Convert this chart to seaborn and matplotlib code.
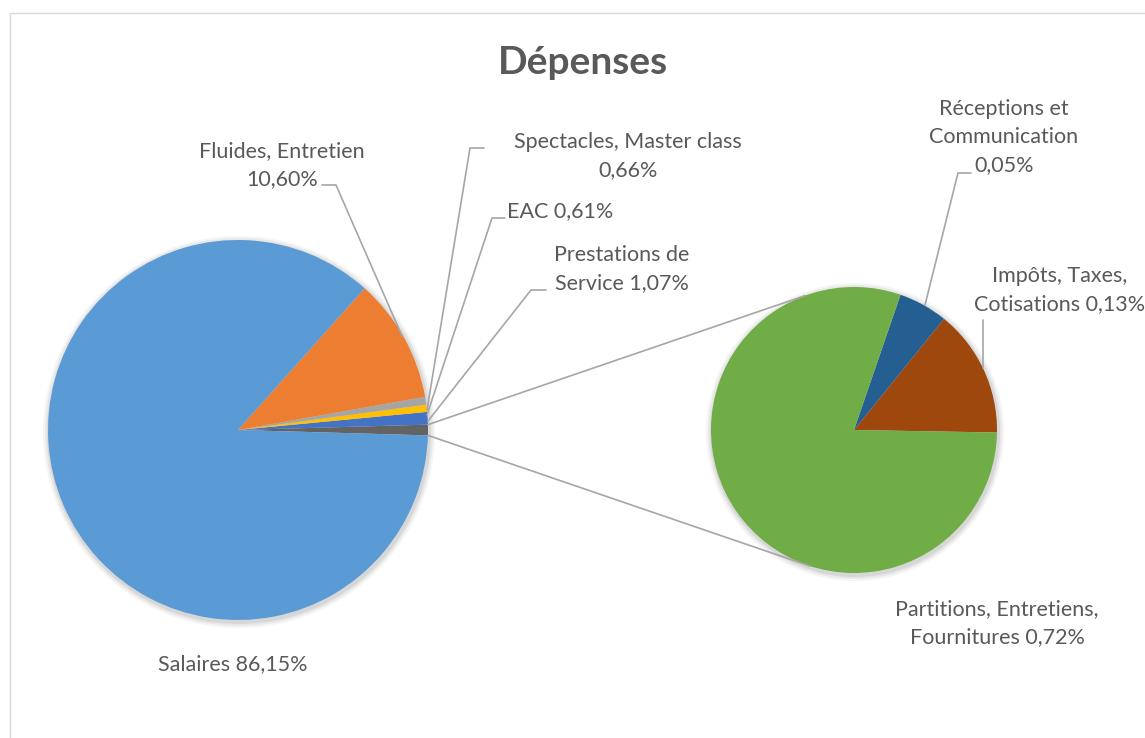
import matplotlib
matplotlib.use("Agg")
import matplotlib.pyplot as plt
import seaborn as sns
import numpy as np
from matplotlib.patches import Rectangle, Circle

# ---- data ----
main_labels = ["Autres", "Prestations de\nService 1,07%", "EAC 0,61%",
               "Spectacles, Master class\n0,66%", "Fluides, Entretien\n10,60%",
               "Salaires 86,15%"]
main_values = [None, 1.07, 0.61, 0.66, 10.60, 86.15]
sub_labels = ["Impôts, Taxes,\nCotisations 0,13%", "Réceptions et\nCommunication\n0,05%",
              "Partitions, Entretiens,\nFournitures 0,72%"]
sub_values = [0.13, 0.05, 0.72]
main_values[0] = sum(sub_values)

title = "Dépenses"

sns.set_theme(style="white")
plt.rcParams['font.family'] = ['Lato', 'DejaVu Sans']

main_colors = ["#636363", "#4472C4", "#FFC000", "#A5A5A5", "#ED7D31", "#5B9BD5"]
sub_colors = ["#9E480E", "#255E91", "#70AD47"]
txt = "#595959"
W, H = 1145, 738

fig = plt.figure(figsize=(W / 100, H / 100), dpi=100)
ax = fig.add_axes([0, 0, 1, 1])

def Y(py):
    return H - py

c1 = (238, Y(430)); r1 = 190
c2 = (854, Y(430)); r2 = 143
other_angle = main_values[0] / sum(main_values) * 360

# soft shadows
for c, r in ((c1, r1), (c2, r2)):
    for k, a in ((6, 0.04), (4, 0.05), (2, 0.07)):
        ax.add_patch(Circle((c[0] + 1, c[1] - 2), r + k, color="black", alpha=a, lw=0, zorder=0))

ax.pie(main_values, colors=main_colors, center=c1, radius=r1,
       startangle=-other_angle / 2, counterclock=True,
       wedgeprops=dict(linewidth=0))
ax.pie(sub_values, colors=sub_colors, center=c2, radius=r2,
       startangle=-1, counterclock=True,
       wedgeprops=dict(linewidth=0))

# connection lines
lc = "#A6A6A6"
for a1, a2 in ((other_angle / 2, 110), (-other_angle / 2, 252)):
    p1 = (c1[0] + r1 * np.cos(np.radians(a1)), c1[1] + r1 * np.sin(np.radians(a1)))
    p2 = (c2[0] + r2 * np.cos(np.radians(a2)), c2[1] + r2 * np.sin(np.radians(a2)))
    ax.plot([p1[0], p2[0]], [p1[1], p2[1]], color=lc, lw=1.2, zorder=3)

fs = 15.5
def lab(x, y, s, ha="center"):
    ax.text(x, Y(y), s, ha=ha, va="center", fontsize=fs, color=txt, linespacing=1.5, zorder=5)

def leader(pts):
    xs = [p[0] for p in pts]; ys = [Y(p[1]) for p in pts]
    ax.plot(xs, ys, color=lc, lw=1.2, zorder=4)

lab(282, 165, main_labels[4])
leader([(322, 185), (336, 185), (402, 336)])
lab(628, 156, main_labels[3])
leader([(484, 148), (470, 148), (427, 410)])
lab(507, 211, main_labels[2], ha="left")
leader([(505, 218), (492, 218), (427, 415)])
lab(622, 269, main_labels[1])
leader([(546, 290), (531, 290), (428, 421)])
lab(233, 664, main_labels[5])

lab(1004, 137, sub_labels[1])
leader([(971, 173), (958, 173), (925, 305)])
lab(1060, 290, sub_labels[0])
leader([(983, 320), (983, 368)])
lab(997, 623, sub_labels[2])

ax.text(583, Y(62), title, ha="center", va="center", fontsize=28, fontweight="bold", color=txt)

ax.add_patch(Rectangle((10, -10), W + 20, Y(13) + 10, fill=False, ec="#D9D9D9", lw=1, zorder=1))

ax.set_xlim(0, W)
ax.set_ylim(0, H)
ax.set_aspect("equal")
ax.axis("off")
fig.savefig("out.png", dpi=100)
